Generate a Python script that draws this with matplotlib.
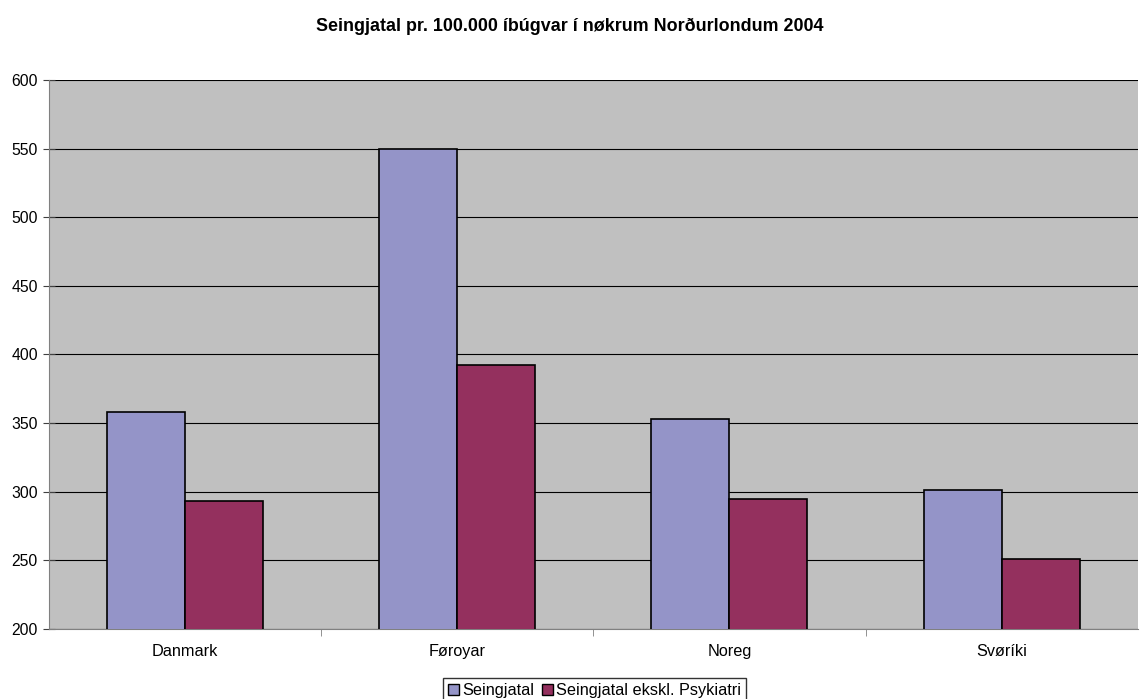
import numpy as np
import matplotlib.pyplot as plt
from matplotlib.patches import Patch

plt.rcParams['font.family'] = ['Liberation Sans', 'DejaVu Sans']

countries = ['Danmark', 'Føroyar', 'Noreg', 'Svøríki']
seingjatal = [358, 550, 353, 301]
eksk_psyk = [293, 392, 295, 251]
series_names = ['Seingjatal', 'Seingjatal ekskl. Psykiatri']
colors = ['#9494C8', '#94305E']

fig = plt.figure(figsize=(11.4, 6.99), dpi=100)
ax = fig.add_axes([0.043, 0.1001, 0.955, 0.7855])
ax.set_facecolor('#C0C0C0')

x = np.arange(len(countries))
w = 0.2865
ax.bar(x - w / 2, seingjatal, w, color=colors[0], edgecolor='black', linewidth=1.2, zorder=3)
ax.bar(x + w / 2, eksk_psyk, w, color=colors[1], edgecolor='black', linewidth=1.2, zorder=3)

ax.set_ylim(200, 600)
ax.set_yticks(range(200, 601, 50))
ax.yaxis.grid(True, color='black', linewidth=0.8, zorder=1)
ax.set_xlim(-0.5, len(countries) - 0.5)
ax.set_xticks(x)
ax.set_xticklabels(countries, fontsize=11.7)
ax.tick_params(axis='x', length=0, pad=11)
ax.set_xticks(np.arange(0.5, len(countries) - 1, 1), minor=True)
ax.tick_params(axis='x', which='minor', length=5, direction='out', color='#808080')
ax.tick_params(axis='y', labelsize=11.3, length=8, direction='inout', color='#404040', pad=4)
for s in ['top', 'right']:
    ax.spines[s].set_visible(False)
for s in ['left', 'bottom']:
    ax.spines[s].set_color('#808080')

fig.suptitle('Seingjatal pr. 100.000 íbúgvar í nøkrum Norðurlondum 2004',
             fontsize=12.9, fontweight='bold', y=0.962, va='center')

handles = [Patch(facecolor=c, edgecolor='black', label=n) for c, n in zip(colors, series_names)]
leg = fig.legend(handles=handles, loc='upper center', bbox_to_anchor=(0.5215, 0.030), ncol=2,
                 fontsize=11.7, frameon=True, fancybox=False, edgecolor='black',
                 handlelength=0.65, handleheight=0.65, handletextpad=0.2, columnspacing=0.5,
                 borderpad=0.3, borderaxespad=0)
leg.get_frame().set_linewidth(1)

fig.savefig('out.png', dpi=100)
